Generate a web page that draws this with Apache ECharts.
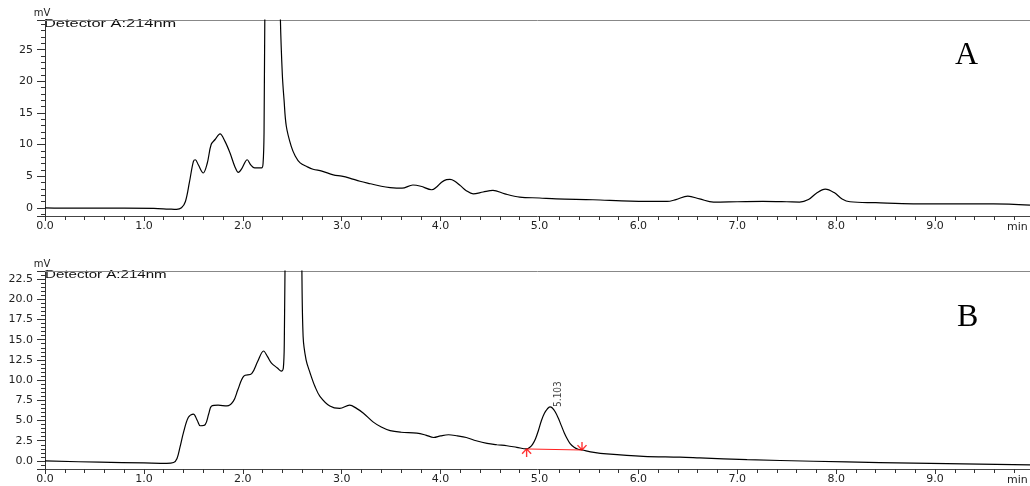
<!DOCTYPE html>
<html><head><meta charset="utf-8">
<style>html,body{margin:0;padding:0;background:#fff}#chart{width:1030px;height:486px}</style>
<script src="https://cdn.jsdelivr.net/npm/echarts@6.0.0/dist/echarts.min.js"></script>
</head><body><div id="chart"></div>
<script>
// ---- text ----
const xTickLabels = ['0.0','1.0','2.0','3.0','4.0','5.0','6.0','7.0','8.0','9.0'];
const yTopTickLabels = ['0','5','10','15','20','25'];
const yBotTickLabels = ['0.0','2.5','5.0','7.5','10.0','12.5','15.0','17.5','20.0','22.5'];
const timeUnit = 'min';
const signalUnit = 'mV';
const detectorLabel = 'Detector A:214nm';
const panelLabels = ['A', 'B'];

// ---- chromatogram A ----
const topTime = [0.00,0.30,0.80,1.10,1.25,1.33,1.38,1.42,1.46,1.50,1.52,1.55,1.60,1.64,1.68,1.72,1.77,1.82,1.87,1.92,1.955,1.99,2.045,2.08,2.12,2.19,2.205,2.215,2.225,2.26,2.30,2.34,2.38,2.40,2.417,2.44,2.49,2.53,2.58,2.65,2.71,2.80,2.915,3.00,3.08,3.185,3.29,3.40,3.49,3.61,3.72,3.80,3.91,3.96,4.01,4.06,4.095,4.14,4.20,4.26,4.33,4.43,4.53,4.65,4.80,5.00,5.17,5.54,5.92,6.29,6.38,6.50,6.62,6.76,7.00,7.26,7.50,7.63,7.72,7.80,7.89,7.98,8.06,8.14,8.40,8.78,9.20,9.59,9.96];
const topSignal = [0.0,-0.05,-0.05,-0.1,-0.2,-0.25,0.0,1.0,4.0,7.3,7.6,6.8,5.5,7.0,10.0,10.8,11.7,10.5,8.7,6.5,5.6,6.2,7.6,6.8,6.3,6.3,7.0,12,35,70,80,65,30,21,17.1,12.9,9.7,8.2,7.1,6.5,6.1,5.8,5.2,5.0,4.7,4.2,3.8,3.4,3.2,3.1,3.6,3.4,2.85,3.3,4.05,4.45,4.5,4.25,3.5,2.7,2.2,2.5,2.75,2.2,1.7,1.55,1.4,1.27,1.06,1.0,1.3,1.85,1.4,0.9,0.95,1.0,0.95,0.9,1.3,2.3,2.95,2.4,1.4,0.95,0.8,0.63,0.63,0.63,0.43];

// ---- chromatogram B ----
const botTime = [0.00,0.556,1.00,1.23,1.30,1.335,1.365,1.40,1.45,1.50,1.54,1.57,1.62,1.655,1.685,1.75,1.84,1.905,1.95,2.01,2.09,2.15,2.21,2.25,2.29,2.35,2.39,2.41,2.42,2.43,2.47,2.52,2.56,2.595,2.61,2.64,2.68,2.73,2.78,2.88,2.98,3.08,3.15,3.22,3.32,3.40,3.49,3.60,3.76,3.85,3.93,4.00,4.08,4.17,4.26,4.36,4.47,4.57,4.67,4.77,4.87,4.90,4.93,4.96,4.99,5.02,5.05,5.08,5.106,5.13,5.16,5.19,5.22,5.25,5.28,5.31,5.35,5.39,5.43,5.55,5.68,6.05,6.42,6.62,7.10,7.77,8.44,9.12,9.96];
const botSignal = [0.0,-0.16,-0.25,-0.3,-0.2,0.3,1.7,3.5,5.4,5.8,5.0,4.35,4.5,5.8,6.8,6.9,6.8,7.4,8.8,10.5,10.8,12.3,13.6,12.9,12.1,11.5,11.1,11.5,15,28,60,75,50,26,15.4,12.5,10.9,9.2,8.0,6.8,6.5,6.9,6.5,5.9,4.8,4.2,3.75,3.55,3.44,3.2,2.9,3.1,3.24,3.1,2.9,2.5,2.17,2.0,1.88,1.68,1.48,1.65,2.05,2.75,3.8,5.0,5.9,6.45,6.68,6.55,6.05,5.3,4.4,3.5,2.75,2.15,1.7,1.45,1.35,1.05,0.86,0.57,0.47,0.38,0.16,-0.04,-0.2,-0.33,-0.5];

// ---- peak annotation (B) ----
const peakTime = [5.106];
const peakSignal = [6.68];
const peakLabels = ['5.103'];
const baseTime = [4.87, 5.43];
const baseSignal = [1.48, 1.35];

const zip = (a, b) => a.map((v, i) => [v, b[i]]);
const FONT = 'DejaVu Sans';
const AX = '#333';

function xAxes(gi) {
  return [{
    gridIndex: gi, type: 'value', min: 0, max: 9.96, interval: 1, position: 'bottom',
    axisLine: { show: true, onZero: false, lineStyle: { color: '#444', width: 1 } },
    axisTick: { show: true, length: 5, lineStyle: { color: '#333' } },
    minorTick: { show: true, splitNumber: 5, length: 4, lineStyle: { color: '#333' } },
    splitLine: { show: false }, minorSplitLine: { show: false },
    axisLabel: { margin: 5, fontFamily: FONT, fontSize: 11, color: '#222', showMaxLabel: false,
      formatter: v => { const i = Math.round(v); return Math.abs(v - i) < 1e-6 && i < xTickLabels.length ? xTickLabels[i] : ''; } },
    name: timeUnit, nameLocation: 'end', nameGap: -23,
    nameTextStyle: { fontFamily: FONT, fontSize: 11, color: '#222', verticalAlign: 'top', padding: [6, 0, 0, 0] }
  }, {
    gridIndex: gi, type: 'value', min: 0, max: 9.96, position: 'top',
    axisLine: { show: true, onZero: false, lineStyle: { color: '#888', width: 1 } },
    axisTick: { show: false }, axisLabel: { show: false }, splitLine: { show: false }
  }];
}

function yAxis(gi, min, max, step, labels) {
  return {
    gridIndex: gi, type: 'value', min: min, max: max, minInterval: step, maxInterval: step, splitNumber: 8,
    axisLine: { show: true, onZero: false, lineStyle: { color: AX, width: 1 } },
    axisTick: { show: true, length: 8, lineStyle: { color: '#333' } },
    minorTick: { show: true, splitNumber: 5, length: 4, lineStyle: { color: '#333' } },
    splitLine: { show: false }, minorSplitLine: { show: false },
    axisLabel: { margin: 12, fontFamily: FONT, fontSize: 11, color: '#222', showMinLabel: false, showMaxLabel: false,
      formatter: v => { const i = Math.round(v / step); return (Math.abs(v - i * step) < 1e-6 && i >= 0 && i < labels.length) ? labels[i] : ''; } },
    name: signalUnit, nameLocation: 'end', nameGap: 2,
    nameTextStyle: { fontFamily: FONT, fontSize: 10, color: '#222', padding: [0, 6, 0, 0] }
  };
}

const upArrow = 'path://M5,0L0,6M5,0L10,6M5,0L5,10';
const downArrow = 'path://M5,10L0,4M5,10L10,4M5,10L5,0';

const option = {
  animation: false,
  backgroundColor: '#fff',
  grid: [
    { left: 45, right: 0, top: 20, height: 196 },
    { left: 45, right: 0, top: 271, height: 199 }
  ],
  xAxis: [...xAxes(0), ...xAxes(1)],
  yAxis: [
    yAxis(0, -1.3, 29.7, 5, yTopTickLabels),
    yAxis(1, -1.0, 23.5, 2.5, yBotTickLabels)
  ],
  graphic: [
    { type: 'text', left: 44, top: 19, scaleX: 1.64, style: { text: detectorLabel, font: '10px "Liberation Sans", Arial, sans-serif', fill: '#111' } },
    { type: 'text', left: 45, top: 270, scaleX: 1.51, style: { text: detectorLabel, font: '10px "Liberation Sans", Arial, sans-serif', fill: '#111' } },
    { type: 'text', left: 955, top: 40, style: { text: panelLabels[0], font: '32px "Liberation Serif", "Times New Roman", serif', fill: '#000' } },
    { type: 'text', left: 957, top: 302, style: { text: panelLabels[1], font: '32px "Liberation Serif", "Times New Roman", serif', fill: '#000' } }
  ],
  series: [
    { type: 'line', xAxisIndex: 0, yAxisIndex: 0, data: zip(topTime, topSignal), symbol: 'none', smooth: 0.35,
      lineStyle: { color: '#000', width: 1.2 }, clip: true, z: 3 },
    { type: 'line', xAxisIndex: 2, yAxisIndex: 1, data: zip(botTime, botSignal), symbol: 'none', smooth: 0.35,
      lineStyle: { color: '#000', width: 1.2 }, clip: true, z: 3 },
    { type: 'line', xAxisIndex: 2, yAxisIndex: 1, data: zip(baseTime, baseSignal), symbol: 'none',
      lineStyle: { color: '#ff2020', width: 1 }, z: 4 },
    { type: 'scatter', xAxisIndex: 2, yAxisIndex: 1, z: 5,
      data: [
        { value: [baseTime[0], baseSignal[0]], symbol: upArrow, symbolOffset: [0, 4] },
        { value: [baseTime[1], baseSignal[1]], symbol: downArrow, symbolOffset: [0, -4] }
      ],
      symbolSize: [9, 8], itemStyle: { color: 'none', borderColor: '#ff0000', borderWidth: 1.3 } },
    { type: 'scatter', xAxisIndex: 2, yAxisIndex: 1, z: 5, symbolSize: 0,
      data: zip(peakTime, peakSignal),
      label: { show: true, formatter: p => peakLabels[p.dataIndex], position: 'right', distance: 8, rotate: 90,
        align: 'left', verticalAlign: 'middle',
        fontFamily: '"Liberation Sans Narrow", "DejaVu Sans Condensed", sans-serif', fontSize: 10, color: '#111' } }
  ]
};
const chart = echarts.init(document.getElementById('chart'));
chart.setOption(option);
</script>
</body></html>
